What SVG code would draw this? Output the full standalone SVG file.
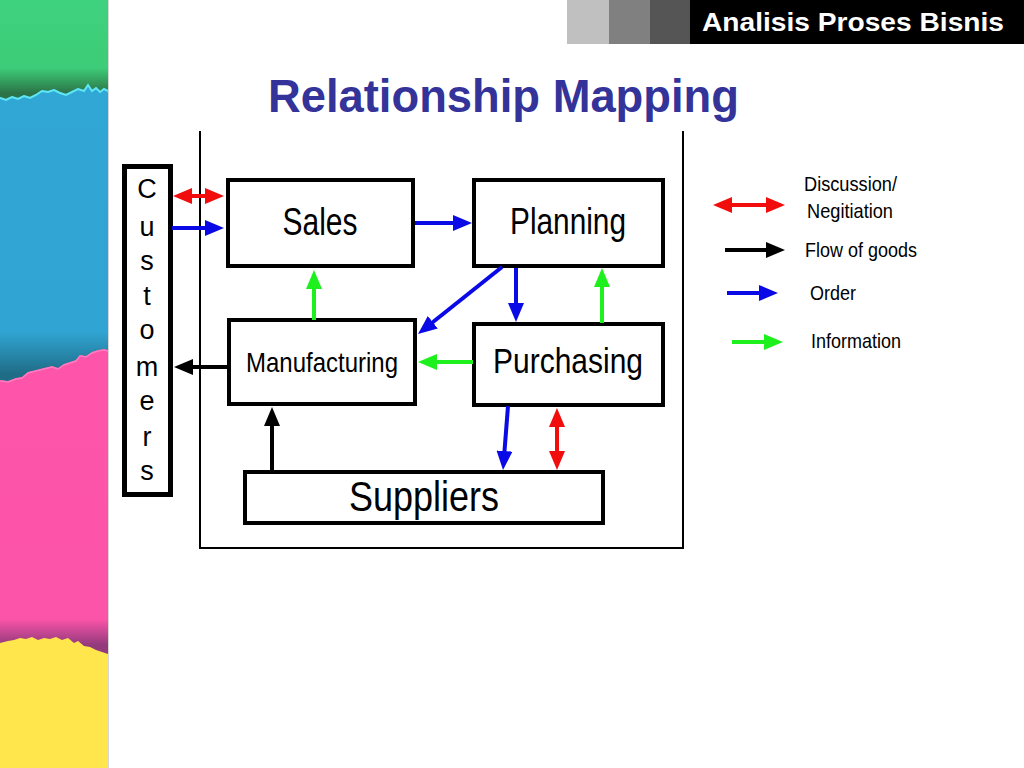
<svg xmlns="http://www.w3.org/2000/svg" width="1024" height="768" viewBox="0 0 1024 768">
  <defs>
    <style>
      .box { fill: #ffffff; stroke: #000000; stroke-width: 4; }
      .lbl { font-family: "Liberation Sans", Arial, sans-serif; fill: #000000; text-anchor: middle; }
      .leg { font-family: "Liberation Sans", Arial, sans-serif; fill: #000000; font-size: 21px; }
      .red { stroke: #f20d0d; stroke-width: 4; fill: none; }
      .blue { stroke: #0a0ae6; stroke-width: 4; fill: none; }
      .green { stroke: #1ef01e; stroke-width: 4; fill: none; }
      .black { stroke: #000000; stroke-width: 4; fill: none; }
      .frame { stroke: #000000; stroke-width: 2; fill: none; }
    </style>
    <marker id="hRed" markerUnits="userSpaceOnUse" markerWidth="19" markerHeight="16" refX="9" refY="8" orient="auto-start-reverse">
      <path d="M0,0 L19,8 L0,16 z" fill="#f20d0d"/>
    </marker>
    <marker id="hBlue" markerUnits="userSpaceOnUse" markerWidth="19" markerHeight="16" refX="9" refY="8" orient="auto">
      <path d="M0,0 L19,8 L0,16 z" fill="#0a0ae6"/>
    </marker>
    <marker id="hGreen" markerUnits="userSpaceOnUse" markerWidth="19" markerHeight="16" refX="9" refY="8" orient="auto">
      <path d="M0,0 L19,8 L0,16 z" fill="#1ef01e"/>
    </marker>
    <marker id="hBlack" markerUnits="userSpaceOnUse" markerWidth="19" markerHeight="16" refX="9" refY="8" orient="auto">
      <path d="M0,0 L19,8 L0,16 z" fill="#000000"/>
    </marker>
    <linearGradient id="gGreen" gradientUnits="userSpaceOnUse" x1="0" y1="0" x2="0" y2="100">
      <stop offset="0" stop-color="#3fd27e"/>
      <stop offset="0.68" stop-color="#3dcc78"/>
      <stop offset="0.93" stop-color="#2c7447"/>
    </linearGradient>
    <linearGradient id="gBlue" gradientUnits="userSpaceOnUse" x1="0" y1="0" x2="0" y2="382">
      <stop offset="0" stop-color="#31a8d6"/>
      <stop offset="0.87" stop-color="#30a4d2"/>
      <stop offset="0.98" stop-color="#1f6c86"/>
    </linearGradient>
    <linearGradient id="gPink" gradientUnits="userSpaceOnUse" x1="0" y1="0" x2="0" y2="655">
      <stop offset="0" stop-color="#ff56ab"/>
      <stop offset="0.945" stop-color="#fc54a8"/>
      <stop offset="0.985" stop-color="#923a7c"/>
    </linearGradient>
  </defs>

  <rect x="0" y="0" width="1024" height="768" fill="#ffffff"/>

  <!-- decorative left stripe -->
  <g id="stripe">
    <rect x="0" y="0" width="108" height="768" fill="#ffe64c"/>
    <path fill="url(#gPink)" d="M0,0 H108 V654 L102,652 96,650 90,647 84,646 78,641 74,643 68,638 62,640 56,637 50,639 44,638 38,640 32,637 26,639 20,638 14,640 8,641 0,643 Z"/>
    <path fill="url(#gBlue)" d="M0,0 H108 V350 L104,349 98,350 92,352 86,356 80,355 76,360 70,362 64,364 58,368 52,366 44,368 36,370 28,372 22,377 16,378 8,381 0,380 Z"/>
    <path fill="none" stroke="#ff7cc0" stroke-width="1.5" d="M108,351 L104,350 98,351 92,353 86,357 80,356 76,361 70,363 64,365 58,369 52,367 44,369 36,371 28,373 22,378 16,379 8,382 0,381"/>
    <path fill="url(#gGreen)" d="M0,0 H108 V90 L104,88 100,91 96,87 92,90 88,84 84,90 78,88 72,91 66,94 60,92 54,89 48,91 42,90 36,94 30,97 24,95 18,98 12,96 6,99 0,97 Z"/>
    <path fill="none" stroke="#5ee6f2" stroke-width="2" d="M108,91 L104,89 100,92 96,88 92,91 88,85 84,91 78,89 72,92 66,95 60,93 54,90 48,92 42,91 36,95 30,98 24,96 18,99 12,97 6,100 0,98"/>
    <line x1="108.5" y1="0" x2="108.5" y2="768" stroke="#d6d6d6" stroke-width="1"/>
  </g>

  <!-- header -->
  <g id="header">
    <rect x="567" y="0" width="42" height="44" fill="#c0c0c0"/>
    <rect x="609" y="0" width="41" height="44" fill="#808080"/>
    <rect x="650" y="0" width="40" height="44" fill="#555555"/>
    <rect x="690" y="0" width="334" height="44" fill="#000000"/>
    <text x="702" y="31" font-family="Liberation Sans, Arial, sans-serif" font-weight="bold" font-size="25" fill="#ffffff" textLength="302" lengthAdjust="spacingAndGlyphs">Analisis Proses Bisnis</text>
  </g>

  <text id="title" x="268" y="112" font-family="Liberation Sans, Arial, sans-serif" font-weight="bold" font-size="46" fill="#333399" textLength="471" lengthAdjust="spacingAndGlyphs">Relationship Mapping</text>

  <!-- outer frame (open at top) -->
  <path id="frame" class="frame" d="M200,131 V548 H683 V131"/>

  <!-- nodes -->
  <g id="customers">
    <rect x="124.5" y="166.5" width="46" height="328" fill="#ffffff" stroke="#000000" stroke-width="5"/>
    <g class="lbl" font-size="27">
      <text x="147" y="198">C</text>
      <text x="147" y="236">u</text>
      <text x="147" y="270">s</text>
      <text x="147" y="305">t</text>
      <text x="147" y="339">o</text>
      <text x="147" y="376">m</text>
      <text x="147" y="410">e</text>
      <text x="147" y="446">r</text>
      <text x="147" y="480">s</text>
    </g>
  </g>

  <g id="sales">
    <rect class="box" x="228" y="180" width="185" height="86"/>
    <text class="lbl" x="320" y="235" font-size="38" textLength="75" lengthAdjust="spacingAndGlyphs">Sales</text>
  </g>

  <g id="planning">
    <rect class="box" x="474" y="180" width="189" height="86"/>
    <text class="lbl" x="568" y="234" font-size="36" textLength="116" lengthAdjust="spacingAndGlyphs">Planning</text>
  </g>

  <g id="manufacturing">
    <rect class="box" x="229" y="320" width="186" height="84"/>
    <text class="lbl" x="322" y="372" font-size="28" textLength="152" lengthAdjust="spacingAndGlyphs">Manufacturing</text>
  </g>

  <g id="purchasing">
    <rect class="box" x="474" y="324" width="189" height="81"/>
    <text class="lbl" x="568" y="373" font-size="35" textLength="150" lengthAdjust="spacingAndGlyphs">Purchasing</text>
  </g>

  <g id="suppliers">
    <rect class="box" x="245" y="472" width="358" height="51"/>
    <text class="lbl" x="424" y="511" font-size="42" textLength="150" lengthAdjust="spacingAndGlyphs">Suppliers</text>
  </g>

  <!-- connectors -->
  <g id="connectors">
    <line class="red" x1="183" y1="196" x2="214" y2="196" marker-start="url(#hRed)" marker-end="url(#hRed)"/>
    <line class="blue" x1="172" y1="228" x2="214" y2="228" marker-end="url(#hBlue)"/>
    <line class="blue" x1="415" y1="223" x2="462" y2="223" marker-end="url(#hBlue)"/>
    <line class="green" x1="314" y1="320" x2="314" y2="280" marker-end="url(#hGreen)"/>
    <line class="black" x1="229" y1="367" x2="184" y2="367" marker-end="url(#hBlack)"/>
    <line class="blue" x1="502" y1="267" x2="425.8" y2="327.8" marker-end="url(#hBlue)"/>
    <line class="blue" x1="516" y1="268" x2="516" y2="312" marker-end="url(#hBlue)"/>
    <line class="green" x1="602" y1="323" x2="602" y2="278" marker-end="url(#hGreen)"/>
    <line class="green" x1="473" y1="362" x2="428" y2="362" marker-end="url(#hGreen)"/>
    <line class="black" x1="272" y1="471" x2="272" y2="417" marker-end="url(#hBlack)"/>
    <line class="blue" x1="508" y1="406" x2="503.8" y2="460" marker-end="url(#hBlue)"/>
    <line class="red" x1="557" y1="418" x2="557" y2="460" marker-start="url(#hRed)" marker-end="url(#hRed)"/>
  </g>

  <!-- legend -->
  <g id="legend">
    <line class="red" x1="723" y1="205" x2="775" y2="205" marker-start="url(#hRed)" marker-end="url(#hRed)"/>
    <text class="leg" x="804" y="191" textLength="93" lengthAdjust="spacingAndGlyphs">Discussion/</text>
    <text class="leg" x="807" y="218" textLength="86" lengthAdjust="spacingAndGlyphs">Negitiation</text>
    <line class="black" x1="725" y1="250" x2="775" y2="250" marker-end="url(#hBlack)"/>
    <text class="leg" x="805" y="257" textLength="112" lengthAdjust="spacingAndGlyphs">Flow of goods</text>
    <line class="blue" x1="727" y1="293" x2="768" y2="293" marker-end="url(#hBlue)"/>
    <text class="leg" x="810" y="300" textLength="46" lengthAdjust="spacingAndGlyphs">Order</text>
    <line class="green" x1="732" y1="342" x2="773" y2="342" marker-end="url(#hGreen)"/>
    <text class="leg" x="811" y="348" textLength="90" lengthAdjust="spacingAndGlyphs">Information</text>
  </g>
</svg>
